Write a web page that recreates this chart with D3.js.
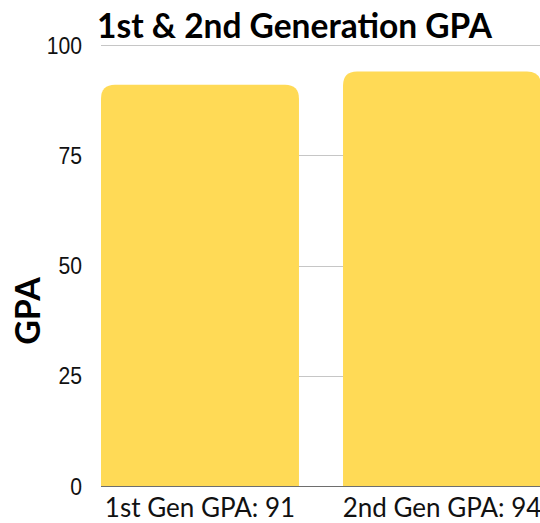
<!DOCTYPE html>
<html>
<head>
<meta charset="utf-8">
<script src="https://cdn.jsdelivr.net/npm/d3@7"></script>
<style>
  body { margin: 0; background: #fff; }
  svg { display: block; }
</style>
</head>
<body>
<div id="chart"></div>
<script>
(function(d3) {
    'use strict';

    // Data
    var categories = ['1st Gen GPA: 91', '2nd Gen GPA: 94'];
    var values = [91, 94];
    var tickValues = [0, 25, 50, 75, 100];

    var width = 540;
    var height = 523;
    var margin = { top: 45, right: -1, bottom: 37, left: 101 };
    var barColor = '#ffda56';
    var radius = 14;

    var svg = d3.select('#chart')
        .append('svg')
        .attr('width', width)
        .attr('height', height);

    var x = d3.scaleBand()
        .domain(categories)
        .range([margin.left, width - margin.right])
        .paddingInner(0.182)
        .paddingOuter(0);

    var y = d3.scaleLinear()
        .domain([0, 100])
        .range([height - margin.bottom, margin.top]);

    // Gridlines
    svg.append('g')
        .selectAll('line')
        .data(tickValues.filter(function(d) { return d > 0; }))
        .enter()
        .append('line')
        .attr('x1', margin.left)
        .attr('x2', width)
        .attr('y1', function(d) { return Math.round(y(d)) + 0.5; })
        .attr('y2', function(d) { return Math.round(y(d)) + 0.5; })
        .attr('stroke', '#c6c6c6')
        .attr('stroke-width', 1);

    // Bars with rounded tops
    function barPath(d, i) {
        var x0 = x(categories[i]);
        var w = x.bandwidth();
        var y0 = y(d);
        var y1 = y(0);
        var r = radius;
        return 'M' + x0 + ',' + y1 +
            'V' + (y0 + r) +
            'Q' + x0 + ',' + y0 + ' ' + (x0 + r) + ',' + y0 +
            'H' + (x0 + w - r) +
            'Q' + (x0 + w) + ',' + y0 + ' ' + (x0 + w) + ',' + (y0 + r) +
            'V' + y1 + 'Z';
    }

    svg.append('g')
        .selectAll('path')
        .data(values)
        .enter()
        .append('path')
        .attr('d', barPath)
        .attr('fill', barColor);

    // Baseline
    svg.append('line')
        .attr('x1', margin.left)
        .attr('x2', width)
        .attr('y1', Math.round(y(0)) + 0.5)
        .attr('y2', Math.round(y(0)) + 0.5)
        .attr('stroke', '#6e6e6e')
        .attr('stroke-width', 1);

    // Y tick labels (slightly narrow, tall glyphs)
    svg.append('g')
        .selectAll('text')
        .data(tickValues)
        .enter()
        .append('text')
        .attr('transform', function(d) {
            return 'translate(82,' + y(d) + ') scale(0.88,1)';
        })
        .attr('dy', '0.36em')
        .attr('text-anchor', 'end')
        .style('font-family', '"Liberation Sans", Arial, sans-serif')
        .style('font-size', '24px')
        .style('fill', '#111')
        .text(function(d) { return d; });

    // X labels
    svg.append('g')
        .selectAll('text')
        .data(categories)
        .enter()
        .append('text')
        .attr('x', function(d) { return x(d) + x.bandwidth() / 2; })
        .attr('y', 517)
        .attr('text-anchor', 'middle')
        .style('font-family', 'Lato, sans-serif')
        .style('font-size', '26px')
        .style('fill', '#111')
        .text(function(d) { return d; });

    // Title
    svg.append('text')
        .attr('x', 97)
        .attr('y', 38)
        .style('font-family', 'Lato, sans-serif')
        .style('font-weight', 'bold')
        .style('font-size', '33.5px')
        .style('fill', '#000')
        .text('1st & 2nd Generation GPA');

    // Y axis title
    svg.append('text')
        .attr('transform', 'translate(40,' + 311 + ') rotate(-90)')
        .attr('text-anchor', 'middle')
        .style('font-family', 'Lato, sans-serif')
        .style('font-weight', 'bold')
        .style('font-size', '34px')
        .style('fill', '#000')
        .text('GPA');

})(window.d3);
</script>
</body>
</html>
